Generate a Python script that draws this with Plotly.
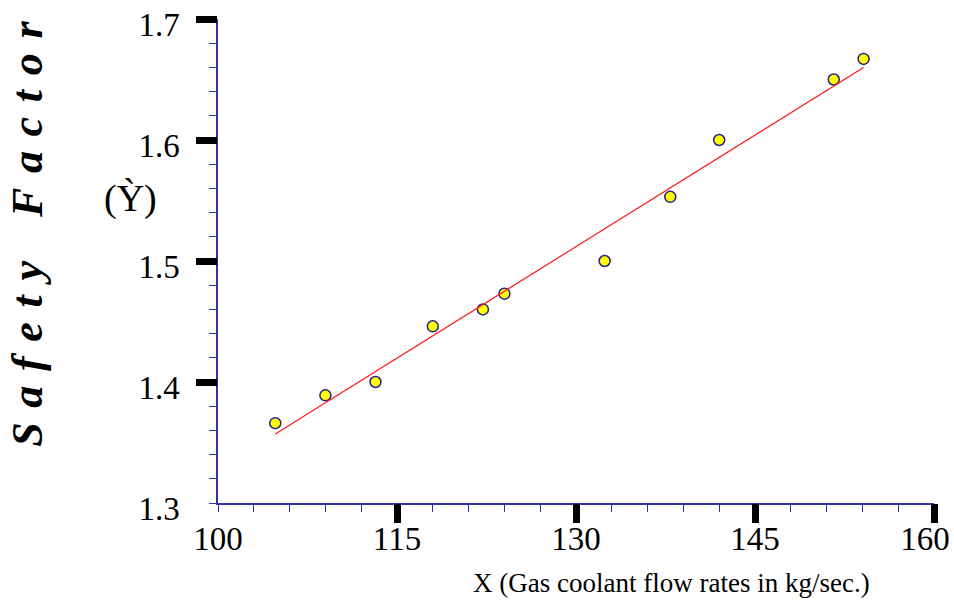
import plotly.graph_objects as go

# Measured points: gas coolant flow rate (kg/sec) vs safety factor
flow = [104.8, 109.0, 113.2, 118.0, 122.2, 124.0, 132.4, 137.9, 142.0, 151.6, 154.1]
safety = [1.366, 1.389, 1.400, 1.446, 1.460, 1.473, 1.500, 1.553, 1.600, 1.650, 1.667]

# Fitted straight line (end points)
fit_x = [104.8, 154.1]
fit_y = [1.357, 1.660]

x_ticks = [100, 115, 130, 145, 160]
x_labels = ['100', '115', '130', '145', '160']
y_ticks = [1.3, 1.4, 1.5, 1.6, 1.7]
y_labels = ['1.3', '1.4', '1.5', '1.6', '1.7']

SERIF = 'Liberation Serif, Times New Roman, serif'
AXIS_BLUE = '#3232a8'
TICK_FONT = dict(family=SERIF, size=33, color='black')

fig = go.Figure()

fig.add_trace(go.Scatter(
    x=fit_x, y=fit_y,
    mode='lines',
    line=dict(color='#ff1a1a', width=1.2),
    xaxis='x2', yaxis='y2',
    showlegend=False,
))

fig.add_trace(go.Scatter(
    x=flow, y=safety,
    mode='markers',
    marker=dict(size=11, color='#ffff00', line=dict(color='#22228a', width=1.5)),
    showlegend=False,
))

fig.update_layout(
    # primary axes: line + labels only
    xaxis=dict(
        range=[100, 160], tickmode='array',
        tickvals=x_ticks[:-1], ticktext=x_labels[:-1],
        ticks='', showgrid=False, zeroline=False, automargin=False,
        showline=True, linecolor=AXIS_BLUE, linewidth=1.5,
        tickfont=TICK_FONT, ticklabelstandoff=6, ticklabeloverflow='allow',
    ),
    yaxis=dict(
        range=[1.3, 1.7], tickmode='array', tickvals=y_ticks, ticktext=y_labels,
        ticks='', showgrid=False, zeroline=False, automargin=False,
        showline=True, linecolor=AXIS_BLUE, linewidth=1.5,
        tickfont=TICK_FONT,
        ticklabelstandoff=30, ticklabelshift=5, ticklabeloverflow='allow',
    ),
    # overlay axes: thick black major ticks + thin blue minor ticks
    xaxis2=dict(
        range=[100, 160], overlaying='x', anchor='y', side='bottom',
        tickmode='array', tickvals=x_ticks[1:], automargin=False,
        ticks='outside', ticklen=19, tickwidth=7, tickcolor='black',
        showticklabels=False, showgrid=False, zeroline=False, showline=False,
        minor=dict(tick0=100, dtick=3, ticks='outside', ticklen=8,
                   tickwidth=1.2, tickcolor=AXIS_BLUE, showgrid=False),
    ),
    # last x label is pulled inward so it stays inside the picture
    xaxis3=dict(
        range=[100, 160], overlaying='x', anchor='y', side='bottom',
        tickmode='array', tickvals=x_ticks[-1:], ticktext=x_labels[-1:],
        ticks='', showgrid=False, zeroline=False, showline=False, automargin=False,
        tickfont=TICK_FONT, ticklabelstandoff=13, ticklabelshift=-9,
        ticklabeloverflow='allow',
    ),
    yaxis2=dict(
        range=[1.3, 1.7], overlaying='y', anchor='x', side='left',
        tickmode='array', tickvals=y_ticks[1:], automargin=False,
        ticks='outside', ticklen=21, tickwidth=7, tickcolor='black',
        showticklabels=False, showgrid=False, zeroline=False, showline=False,
        minor=dict(tick0=1.3, dtick=0.02, ticks='outside', ticklen=8,
                   tickwidth=1.2, tickcolor=AXIS_BLUE, showgrid=False),
    ),
    width=954, height=601,
    margin=dict(l=218, r=20, t=19, b=98),
    plot_bgcolor='white', paper_bgcolor='white',
)

# invisible trace so the extra label axis gets drawn
fig.add_trace(go.Scatter(
    x=[x_ticks[-1]], y=[y_ticks[0]], mode='markers',
    marker=dict(opacity=0), xaxis='x3', yaxis='y',
    showlegend=False, hoverinfo='skip',
))

sp = '\u2004'
title_text = sp.join('Safety') + sp * 3 + sp.join('Factor')

fig.add_annotation(
    text=title_text, textangle=-90,
    xref='paper', yref='paper', x=-0.2654, y=0.556,
    xanchor='center', yanchor='middle', showarrow=False,
    font=dict(family=SERIF, size=44, color='black', style='italic', weight='bold'),
)
fig.add_annotation(
    text='(Ỳ)',
    xref='paper', yref='paper', x=-0.1229, y=0.630,
    xanchor='center', yanchor='middle', showarrow=False,
    font=dict(family=SERIF, size=38, color='black'),
)
fig.add_annotation(
    text='X (Gas coolant flow rates in kg/sec.)',
    xref='paper', yref='paper', x=0.634, y=-0.165,
    xanchor='center', yanchor='middle', showarrow=False,
    font=dict(family=SERIF, size=27, color='black'),
)

# drop the default 8px page margin so the figure sits at the window origin
fig.write_html('out.html', config={'displayModeBar': False},
               post_script="document.body.style.margin='0';")
